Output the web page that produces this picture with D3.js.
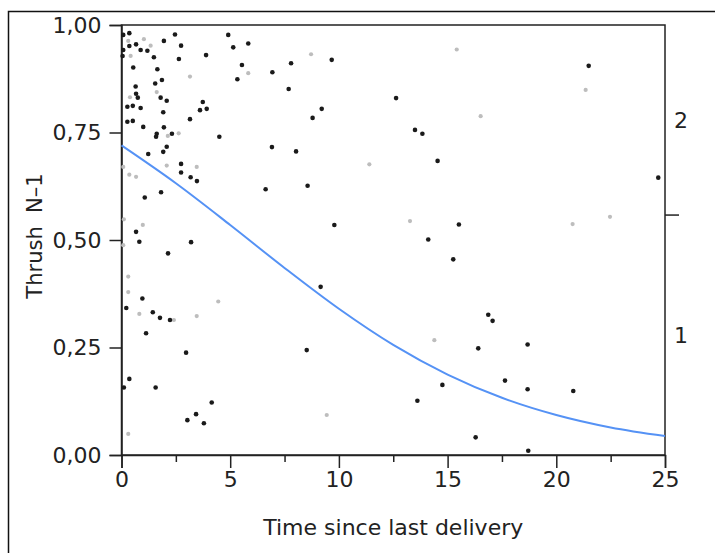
<!DOCTYPE html>
<html>
<head>
<meta charset="utf-8">
<script src="https://cdn.jsdelivr.net/npm/d3@7"></script>
<style>
  body { margin: 0; background: #fff; }
  text { font-family: "DejaVu Sans", sans-serif; fill: #222; }
</style>
</head>
<body>
<div id="chart"></div>
<script>
// Points drawn in black (time, thrush)
const timeBlack = [0.08, 0.36, 2.46, 4.91, 1.95, 2.74, 5.14, 5.83, 0.08, 0.36, 0.67, 0.88, 1.19, 1.49, 2.64, 3.89,
  0.54, 1.65, 5.54, 5.33, 6.94, 7.80, 7.69, 1.86, 1.55, 0.65, 0.67, 0.75, 1.80, 2.08, 3.74, 3.61, 3.92, 0.27, 0.52,
  0.88, 1.92, 3.15, 0.27, 0.52, 1.00, 1.95, 1.59, 4.50, 2.32, 2.08, 1.92, 1.23, 6.92, 8.03, 2.74, 2.74, 3.18, 3.47,
  1.82, 1.07, 6.63, 0.67, 0.82, 3.20, 2.14, 0.96, 0.22, 1.44, 1.77, 2.23, 1.13, 2.97, 0.36, 0.11, 1.57, 4.15, 3.43,
  3.03, 3.79, 9.67, 12.63, 9.21, 8.79, 13.50, 13.84, 14.54, 8.56, 9.79, 15.52, 14.11, 15.26, 9.16, 16.87, 8.52,
  16.41, 17.07, 18.68, 17.64, 18.68, 20.78, 18.71, 14.76, 13.61, 16.29, 21.49, 24.69, 0.05, 1.62];
const thrushBlack = [0.977, 0.981, 0.978, 0.977, 0.963, 0.952, 0.948, 0.957, 0.942, 0.951, 0.955, 0.942, 0.940, 0.925,
  0.921, 0.930, 0.901, 0.897, 0.907, 0.874, 0.890, 0.911, 0.851, 0.872, 0.864, 0.857, 0.840, 0.831, 0.831, 0.824,
  0.821, 0.802, 0.805, 0.810, 0.812, 0.807, 0.797, 0.781, 0.775, 0.777, 0.763, 0.762, 0.740, 0.740, 0.747, 0.717,
  0.705, 0.700, 0.716, 0.706, 0.677, 0.657, 0.646, 0.637, 0.611, 0.599, 0.618, 0.519, 0.496, 0.495, 0.469, 0.364,
  0.342, 0.332, 0.319, 0.314, 0.283, 0.238, 0.177, 0.157, 0.157, 0.122, 0.095, 0.081, 0.074, 0.919, 0.830, 0.805,
  0.784, 0.756, 0.747, 0.684, 0.626, 0.535, 0.536, 0.501, 0.455, 0.391, 0.326, 0.244, 0.248, 0.312, 0.257, 0.173,
  0.153, 0.149, 0.010, 0.163, 0.126, 0.041, 0.905, 0.645, 0.928, 0.747];

// Points drawn in light grey
const timeGray = [1.03, 0.31, 1.34, 0.42, 3.15, 5.83, 1.62, 0.39, 2.63, 2.13, 2.08, 3.46, 0.36, 0.67, 0.11, 0.98,
  0.08, 0.31, 0.31, 4.45, 0.82, 2.41, 3.46, 0.31, 8.72, 15.42, 16.52, 11.40, 13.27, 14.39, 9.44, 21.35, 22.47,
  20.75, 0.08];
const thrushGray = [0.967, 0.963, 0.952, 0.928, 0.880, 0.888, 0.844, 0.832, 0.748, 0.742, 0.673, 0.670, 0.652, 0.647,
  0.548, 0.535, 0.488, 0.415, 0.379, 0.357, 0.328, 0.314, 0.323, 0.049, 0.932, 0.943, 0.788, 0.676, 0.544, 0.267,
  0.093, 0.849, 0.554, 0.537, 0.670];

// Fitted curve
const curveTime = [0, 2.5, 5, 7.5, 10, 12.5, 15, 17.5, 20, 22.5, 25];
const curveProb = [0.72, 0.632, 0.535, 0.435, 0.34, 0.256, 0.187, 0.133, 0.093, 0.064, 0.044];

// Tick values and response labels
const xMajorTicks = [0, 5, 10, 15, 20, 25];
const xMinorTicks = [2.5, 7.5, 12.5, 17.5, 22.5];
const yTicks = [0, 0.25, 0.5, 0.75, 1];
const responseLabels = ['2', '1'];
const responseSplit = 0.558;

const width = 715;
const height = 553;
const plot = { left: 121.5, right: 665, top: 25, bottom: 455 };
const fontSize = 22;

const svg = d3.select('#chart')
  .append('svg')
  .attr('width', width)
  .attr('height', height);

// Outer frame
svg.append('rect')
  .attr('x', 8.5)
  .attr('y', 11.5)
  .attr('width', width)
  .attr('height', height)
  .attr('fill', 'none')
  .attr('stroke', '#111')
  .attr('stroke-width', 1.5);

const xScale = d3.scaleLinear().domain([0, 25]).range([plot.left, plot.right]);
const yScale = d3.scaleLinear().domain([0, 1]).range([plot.bottom, plot.top]);
const fmt = d => d3.format('.2f')(d).replace('.', ',');

// Plot box (top and right sides)
svg.append('rect')
  .attr('x', plot.left)
  .attr('y', plot.top)
  .attr('width', plot.right - plot.left)
  .attr('height', plot.bottom - plot.top)
  .attr('fill', 'none')
  .attr('stroke', '#222')
  .attr('stroke-width', 1.5);

// Bottom axis, major and minor ticks
svg.append('g')
  .attr('transform', `translate(0,${plot.bottom})`)
  .call(d3.axisBottom(xScale).tickValues(xMajorTicks).tickSize(13).tickPadding(3).tickFormat(d3.format('d')));
svg.append('g')
  .attr('transform', `translate(0,${plot.bottom})`)
  .call(d3.axisBottom(xScale).tickValues(xMinorTicks).tickSize(7).tickFormat(''))
  .select('.domain').remove();

// Left axis
svg.append('g')
  .attr('transform', `translate(${plot.left},0)`)
  .call(d3.axisLeft(yScale).tickValues(yTicks).tickSize(12).tickPadding(8).tickFormat(fmt));

svg.selectAll('.domain, .tick line')
  .attr('stroke', '#222')
  .attr('stroke-width', 1.5);
svg.selectAll('.tick text')
  .attr('font-size', fontSize)
  .attr('fill', '#222');

// Right side: split tick and response labels
svg.append('line')
  .attr('x1', plot.right)
  .attr('x2', plot.right + 14)
  .attr('y1', yScale(responseSplit))
  .attr('y2', yScale(responseSplit))
  .attr('stroke', '#222')
  .attr('stroke-width', 1.5);

svg.selectAll('.resp')
  .data(responseLabels)
  .enter()
  .append('text')
  .attr('class', 'resp')
  .attr('x', plot.right + 16)
  .attr('y', (d, i) => i === 0 ? yScale((1 + responseSplit) / 2) : yScale(responseSplit / 2))
  .attr('dy', '0.36em')
  .attr('text-anchor', 'middle')
  .attr('font-size', fontSize)
  .text(d => d);

// Axis titles
svg.append('text')
  .attr('x', (plot.left + plot.right) / 2)
  .attr('y', 535)
  .attr('text-anchor', 'middle')
  .attr('font-size', fontSize)
  .text('Time since last delivery');

svg.append('text')
  .attr('transform', 'translate(42,236) rotate(-90)')
  .attr('text-anchor', 'middle')
  .attr('font-size', fontSize - 1)
  .style('white-space', 'pre')
  .text('Thrush  N\u20131');

// Grey points first, then black points
svg.selectAll('.pt-gray')
  .data(timeGray)
  .enter()
  .append('circle')
  .attr('class', 'pt-gray')
  .attr('cx', d => xScale(d))
  .attr('cy', (d, i) => yScale(thrushGray[i]))
  .attr('r', 2.1)
  .attr('fill', '#bdbdbd');

svg.selectAll('.pt-black')
  .data(timeBlack)
  .enter()
  .append('circle')
  .attr('class', 'pt-black')
  .attr('cx', d => xScale(d))
  .attr('cy', (d, i) => yScale(thrushBlack[i]))
  .attr('r', 2.3)
  .attr('fill', '#1a1a1a');

// Fitted logistic curve
const line = d3.line()
  .x(d => xScale(d))
  .y((d, i) => yScale(curveProb[i]))
  .curve(d3.curveMonotoneX);

svg.append('path')
  .datum(curveTime)
  .attr('d', line)
  .attr('fill', 'none')
  .attr('stroke', '#5592f5')
  .attr('stroke-width', 2);
</script>
</body>
</html>
